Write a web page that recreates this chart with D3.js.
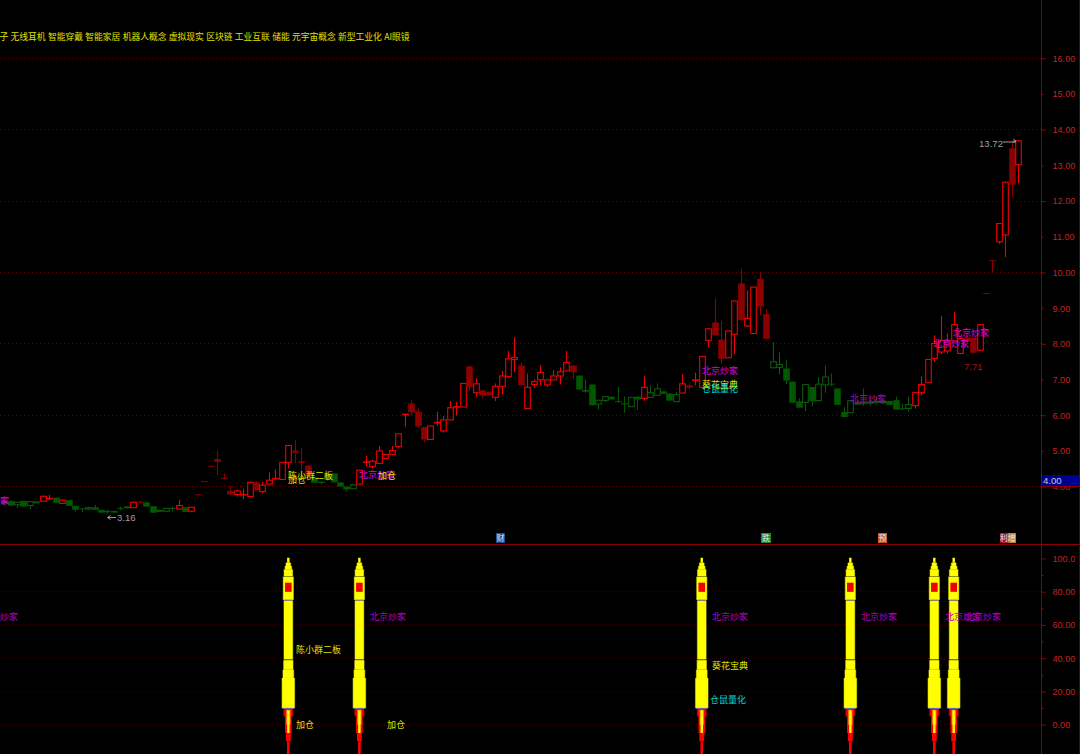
<!DOCTYPE html>
<html><head><meta charset="utf-8">
<style>html,body{margin:0;padding:0;background:#000;overflow:hidden}svg{display:block}</style>
<script src="https://cdn.jsdelivr.net/npm/d3@7"></script></head><body><svg id="c" width="1080" height="754"></svg>
<script>
const opens=[3.64,3.64,3.53,3.64,3.51,3.63,3.63,3.70,3.73,3.57,
3.66,3.50,3.43,3.41,3.46,3.39,3.36,3.36,3.43,3.49,
3.45,3.62,3.60,3.49,3.39,3.35,3.43,3.41,3.46,3.35,
3.81,4.18,4.61,4.81,4.27,3.92,3.82,3.81,3.76,4.16,
3.90,4.11,4.26,4.24,4.72,5.05,4.75,4.63,4.30,4.18,
4.41,4.41,4.16,4.04,3.98,4.11,4.72,4.60,4.69,4.83,
4.94,5.16,6.06,6.37,6.14,5.71,5.36,5.83,5.60,5.91,
6.27,6.27,7.41,6.67,6.74,6.70,6.54,6.85,7.12,7.60,
7.43,6.23,6.90,7.03,6.89,7.03,7.14,7.28,7.43,7.15,
6.72,6.90,6.35,6.45,6.56,6.42,6.36,6.28,6.56,6.51,
6.54,6.60,6.71,6.65,6.42,6.66,6.88,7.02,6.82,8.14,
8.64,8.16,7.65,8.31,9.73,8.54,8.33,9.86,8.87,7.37,
7.38,7.35,6.98,6.43,6.40,6.83,6.45,6.89,6.91,6.79,
6.13,6.11,6.40,6.42,6.42,6.44,6.45,6.44,6.46,6.22,
6.23,6.31,6.67,6.95,7.63,7.81,7.84,8.12,7.77,8.22,
8.21,7.86,9.45,10.37,10.90,11.09,13.52,13.06];
const highs=[3.64,3.65,3.60,3.64,3.62,3.63,3.77,3.81,3.73,3.68,
3.66,3.50,3.43,3.48,3.53,3.39,3.40,3.36,3.48,3.49,
3.60,3.65,3.60,3.49,3.39,3.43,3.48,3.67,3.46,3.46,
3.81,4.18,4.61,5.06,4.41,4.06,3.95,3.99,4.16,4.20,
4.18,4.44,4.52,4.72,5.19,5.34,5.13,4.63,4.30,4.18,
4.41,4.41,4.16,4.04,4.09,4.50,4.90,4.80,5.18,4.94,
5.18,5.52,6.07,6.48,6.26,5.71,5.74,6.14,6.02,6.44,
6.41,6.93,7.41,7.07,6.74,6.70,6.93,7.28,7.84,8.23,
7.51,7.21,7.05,7.44,7.03,7.30,7.38,7.84,7.43,7.15,
7.04,6.90,6.46,6.56,6.56,6.83,6.56,6.54,6.56,7.13,
6.88,6.93,6.71,6.65,6.70,7.19,6.95,7.23,7.69,8.46,
9.31,8.68,8.40,9.24,10.15,9.54,9.63,10.03,9.01,8.09,
7.80,7.60,6.98,6.51,6.90,6.83,7.10,7.43,7.21,6.79,
6.27,6.45,6.50,6.79,6.50,6.55,6.45,6.44,6.56,6.37,
6.56,6.68,7.13,7.60,8.28,8.83,8.33,8.93,8.19,8.30,
8.21,8.58,9.45,10.37,11.41,12.57,13.73,13.73];
const lows=[3.57,3.50,3.43,3.48,3.41,3.57,3.63,3.68,3.59,3.55,
3.50,3.33,3.33,3.39,3.39,3.31,3.29,3.31,3.37,3.43,
3.45,3.59,3.48,3.31,3.33,3.35,3.34,3.41,3.33,3.32,
3.81,4.18,4.61,4.36,4.24,3.82,3.76,3.68,3.76,3.93,
3.85,4.11,4.26,4.24,4.55,4.69,4.36,4.34,4.15,4.10,
4.22,4.16,4.04,3.90,3.98,4.11,4.60,4.55,4.69,4.83,
4.94,5.11,5.72,6.04,5.70,5.27,5.36,5.74,5.55,5.91,
6.04,6.27,6.74,6.56,6.51,6.60,6.44,6.62,7.12,7.25,
6.88,6.23,6.81,6.88,6.83,7.03,6.90,7.28,7.05,6.76,
6.67,6.32,6.20,6.42,6.48,6.39,6.11,6.28,6.18,6.44,
6.54,6.60,6.64,6.45,6.42,6.66,6.76,6.88,6.82,7.94,
8.28,7.49,7.65,7.75,8.70,8.51,8.33,8.84,8.18,7.37,
7.19,6.91,6.39,6.25,6.16,6.29,6.45,6.67,6.85,6.33,
5.99,6.11,6.33,6.30,6.30,6.33,6.34,6.33,6.20,6.18,
6.14,6.23,6.60,6.95,7.53,7.75,7.77,8.12,7.75,8.05,
7.79,7.86,9.45,10.05,10.84,10.47,12.15,12.54];
const closes=[3.57,3.51,3.60,3.48,3.62,3.57,3.77,3.71,3.59,3.66,
3.50,3.39,3.40,3.45,3.39,3.31,3.32,3.31,3.43,3.43,
3.60,3.59,3.48,3.31,3.33,3.43,3.43,3.51,3.33,3.46,
3.81,4.18,4.61,4.73,4.27,3.82,3.92,3.82,4.16,3.93,
4.08,4.22,4.27,4.72,5.19,4.99,4.70,4.34,4.15,4.14,
4.22,4.16,4.04,3.96,4.09,4.50,4.73,4.75,5.04,4.94,
5.05,5.52,6.07,6.12,5.73,5.36,5.74,5.84,5.91,6.25,
6.28,6.93,6.83,6.92,6.59,6.60,6.85,7.14,7.62,7.66,
6.88,6.82,6.98,7.24,7.03,7.14,7.26,7.52,7.24,6.76,
6.73,6.32,6.46,6.56,6.48,6.42,6.36,6.54,6.48,6.82,
6.67,6.78,6.64,6.45,6.62,6.92,6.81,7.03,7.69,8.46,
8.28,7.62,8.40,9.24,8.70,8.75,9.63,9.09,8.18,7.54,
7.46,7.01,6.39,6.25,6.90,6.43,6.91,7.11,6.91,6.33,
5.99,6.45,6.33,6.35,6.36,6.38,6.37,6.33,6.20,6.22,
6.34,6.68,6.90,7.60,8.05,8.14,8.12,8.58,8.19,8.12,
7.79,8.58,9.45,10.37,11.41,12.57,12.50,13.73];
const redRuns=[[6,7],[9,9],[20,21],[27,27],[29,47],[55,88],[99,99],[105,118],[141,157]];
const signalBars=[44,55,108,131,144,147];
const priceTicks=[16,15,14,13,12,11,10,9,8,7,6,5,4];
const priceGrid=[16,14,12,10,8,6,4];
const indicatorTicks=[100,80,60,40,20,0];
const indicatorMinor=[90,70,50,30,10];
const conceptText="子 无线耳机 智能穿戴 智能家居 机器人概念 虚拟现实 区块链 工业互联 储能 元宇宙概念 新型工业化 AI眼镜";

const svg=d3.select("#c");
const CJK="'Noto Sans CJK SC','Noto Sans',sans-serif", LAT="'Liberation Sans',Arial,sans-serif";
svg.append("rect").attr("width",1080).attr("height",754).attr("fill","#000");
const x=d3.scaleLinear().domain([0,157]).range([4.08,1018.3]);
const y=d3.scaleLinear().domain([4,16]).range([486.6,58.3]);
const yc=y.copy().domain([4.04,16.04]);
const yL=d3.scaleLinear().domain([0,100]).range([724.7,558.4]);
const AX=1041.5, DR="#8b0000";
const isRed=i=>redRuns.some(r=>i>=r[0]&&i<=r[1]);
const snap=v=>Math.floor(v)+.5;

// grid
const grid=svg.append("g").attr("fill","none").attr("shape-rendering","crispEdges");
grid.selectAll(".u").data(priceGrid).join("line").attr("x1",0).attr("x2",AX)
  .attr("y1",d=>snap(y(d))).attr("y2",d=>snap(y(d)))
  .attr("stroke","#660000").attr("stroke-dasharray","1,3");
grid.selectAll(".l").data(indicatorTicks.filter(d=>d<100)).join("line").attr("x1",0).attr("x2",AX)
  .attr("y1",d=>snap(yL(d))).attr("y2",d=>snap(yL(d)))
  .attr("stroke","#400000").attr("stroke-dasharray","1,3");

// candles
const cg=svg.append("g");
opens.forEach((o,i)=>{
  const c=closes[i],h=highs[i],l=lows[i],red=isRed(i),up=c>o;
  const col=red?(up?"#f00000":"#8b0000"):(up?"#0b5a0b":"#005800");
  const cx=Math.round(x(i))+.5;
  cg.append("line").attr("x1",cx).attr("x2",cx).attr("y1",yc(h)).attr("y2",yc(l)).attr("stroke",col).attr("stroke-width",1.1);
  const top=yc(Math.max(o,c)),bot=yc(Math.min(o,c));
  if(up){
    cg.append("rect").attr("x",cx-2.8).attr("width",5.6).attr("y",top).attr("height",Math.max(bot-top,.5))
      .attr("fill","#000").attr("stroke",col).attr("stroke-width",1.1);
  }else if(bot-top<1){
    cg.append("line").attr("x1",cx-3.3).attr("x2",cx+3.3).attr("y1",top).attr("y2",top).attr("stroke",col).attr("stroke-width",1.1);
  }else{
    cg.append("rect").attr("x",cx-3.3).attr("width",6.6).attr("y",top).attr("height",bot-top).attr("fill",col);
  }
});

// axes lines
svg.append("line").attr("x1",AX).attr("x2",AX).attr("y1",0).attr("y2",754).attr("stroke",DR);
svg.append("line").attr("x1",1079.5).attr("x2",1079.5).attr("y1",0).attr("y2",754).attr("stroke","#600000");
svg.append("line").attr("x1",0).attr("x2",1080).attr("y1",544.5).attr("y2",544.5).attr("stroke",DR).attr("stroke-width",1.2);

function axis(scale,ticks,fmt,size){
  const g=svg.append("g").attr("transform",`translate(${AX},0)`)
    .call(d3.axisRight(scale).tickValues(ticks).tickFormat(fmt).tickSize(size).tickPadding(11-size));
  g.select(".domain").remove();
  g.selectAll("line").attr("stroke",DR);
  g.selectAll("text").attr("fill","#c42222").attr("font-family",LAT).attr("font-size",9.1);
}
axis(y,priceTicks.filter(d=>d%2===0),d3.format(".2f"),4.5);
axis(y,priceTicks.filter(d=>d%2!==0),d3.format(".2f"),2);
axis(yL,indicatorTicks,d=>d===100?"100.0":d3.format(".2f")(d),4.5);
axis(yL,indicatorMinor,()=>"",2);

// blue price tag
svg.append("rect").attr("x",1042).attr("y",475).attr("width",37).attr("height",11.5).attr("fill","#000090");
svg.append("line").attr("x1",1042).attr("x2",1079).attr("y1",486.5).attr("y2",486.5).attr("stroke",DR);
txt("4.00",1043,481,"#c8c8d8",9.6,LAT);

function txt(s,px,py,col,size,font,anchor){
  return svg.append("text").attr("x",px).attr("y",py).attr("dy",".36em").attr("fill",col)
    .attr("font-size",size||9).attr("font-family",font||CJK).attr("text-anchor",anchor||"start").text(s);
}

// concept row
txt(conceptText,-0.5,37,"#e0e000",8.75).attr("word-spacing","0.4px");

// rockets
const Y="#ffff00",R="#ff0000";
const rocket=[
 [100.4,97.4,1.2,Y],[97.4,95.4,2.3,Y],[95.4,93.4,3.2,Y],[93.4,89.3,4.2,Y],
 [89,75,5,Y],[74.7,39.4,4.3,Y],[38.8,33.1,4.6,Y],[33.1,28.1,5.3,Y],[28.1,10,6.2,Y],
 [9.4,5,4.9,"#c80000"],[9.4,5,3.7,R],[5,-5,3.3,R],[-5,-10,2.4,R],[-10,-18,1.3,R],
 [8.9,0,2.1,"#ff9000"],[8.5,-5,1.2,Y]];
signalBars.forEach(i=>{
  const cx=x(i),g=svg.append("g");
  rocket.filter(r=>r[3]===Y&&r[2]>2).forEach(r=>{
    g.append("rect").attr("x",cx-r[2]-.6).attr("width",2*r[2]+1.2).attr("y",yL(r[0])).attr("height",yL(r[1])-yL(r[0])).attr("fill","#808000");
  });
  rocket.forEach(r=>{
    g.append("rect").attr("x",cx-r[2]).attr("width",2*r[2]).attr("y",yL(r[0])).attr("height",yL(r[1])-yL(r[0]))
     .attr("fill",r[3]);
  });
  g.append("rect").attr("x",cx-3.3).attr("width",6.6).attr("y",yL(85.4)).attr("height",yL(79.9)-yL(85.4)).attr("fill","#f00000");
  [[74.9,4.5],[39.1,4.5],[9.8,6]].forEach(l=>g.append("line").attr("x1",cx-l[1]).attr("x2",cx+l[1]).attr("y1",yL(l[0])).attr("y2",yL(l[0])).attr("stroke","#7070b8"));
});

// upper labels
const MAG="#e000e0",PUR="#b000c0",YEL="#e0e000",CYA="#00d8d8";
const BJ="北京炒家";
txt(BJ,702,371,MAG);txt(BJ,850,399,PUR);txt(BJ,933,344,"#f000d0");txt(BJ,953,333,"#f000d0");txt(BJ,359,475,MAG);txt("家",0,501,MAG);
txt("陈小群二板",288,476,YEL);txt("加仓",288,480,YEL);txt("加仓",378,476,YEL);
txt("葵花宝典",702,385,YEL);txt("仓鼠量化",702,389,CYA);
// lower labels
txt("炒家",0,617,PUR);txt(BJ,370,617,PUR);txt(BJ,712,617,PUR);txt(BJ,861,617,PUR);txt(BJ,945,617,PUR);txt(BJ,965,617,PUR);
txt("陈小群二板",296,650,YEL);txt("加仓",296,725,YEL);txt("加仓",387,725,YEL);
txt("葵花宝典",712,666,YEL);txt("仓鼠量化",710,700,CYA);

// extreme labels
const GR="#9c9c9c";
txt("3.16",117,518,GR,9.6,LAT);
svg.append("path").attr("d","M107.5,517.5H116M107.5,517.5l3,-2M107.5,517.5l3,2").attr("stroke",GR).attr("fill","none");
txt("13.72",979,144,GR,9.6,LAT);
svg.append("path").attr("d","M1003,142H1016M1016,141l-3,-1.5M1016,141l-3,1.5").attr("stroke",GR).attr("fill","none");
txt("7.71",964,367,"#a01818",9.6,LAT);

// event chips
[["财",496,9,"#1c4a94"],["跌",761,10,"#1a8a2c"],["预",878,9,"#c05422"],["利",1000,7.5,"#a01a2c"],["增",1007.5,8.5,"#b87a34"]].forEach(m=>{
  svg.append("rect").attr("x",m[1]).attr("y",533).attr("width",m[2]).attr("height",10).attr("fill",m[3]);
  txt(m[0],m[1]+m[2]/2,538,"#e8e8e8",8,CJK,"middle");
});
</script></body></html>
